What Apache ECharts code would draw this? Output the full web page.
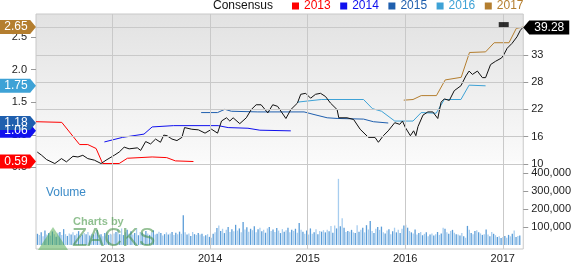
<!DOCTYPE html>
<html><head><meta charset="utf-8">
<script src="https://cdn.jsdelivr.net/npm/echarts@6/dist/echarts.min.js"></script>
<style>html,body{margin:0;padding:0;background:#fff}#c{width:574px;height:264px}</style>
</head><body><div id="c"></div>
<script>
// ---- axis ranges & ticks (decimal years on x) ----
const xMin = 2012.215, xMax = 2017.21;
const yearTicks = [2013, 2014, 2015, 2016, 2017];
const epsTicks = [0.5, 1.0, 1.5, 2.0, 2.5];
const priceTicks = [10, 15.85, 21.7, 27.55, 33.4, 39.25];
const volumeTicks = [100000, 200000, 300000, 400000];

// ---- price (black line) ----
const priceDates = [
  2012.228,2012.273,2012.324,2012.408,2012.476,2012.527,2012.594,2012.645,2012.695,2012.746,2012.814,2012.882,2012.933,
  2013.017,2013.068,2013.119,2013.170,2013.254,2013.288,2013.339,2013.390,2013.441,2013.491,2013.525,2013.558,2013.609,2013.660,2013.711,2013.738,2013.812,2013.880,2013.948,
  2014.015,2014.076,2014.117,2014.168,2014.202,2014.236,2014.304,2014.371,2014.421,2014.472,2014.523,2014.591,2014.642,2014.692,2014.777,2014.827,2014.895,2014.929,2014.980,
  2015.030,2015.081,2015.132,2015.183,2015.234,2015.302,2015.319,2015.403,2015.471,2015.538,2015.623,2015.690,2015.725,2015.776,2015.826,2015.893,2015.944,2015.972,
  2016.002,2016.053,2016.086,2016.109,2016.131,2016.182,2016.232,2016.283,2016.334,2016.368,2016.401,2016.452,2016.503,2016.571,2016.622,2016.655,2016.689,2016.740,2016.791,2016.824,2016.875,2016.926,2016.987,
  2017.010,2017.045,2017.095,2017.146,2017.180,2017.205];
const priceValues = [
  12.53,11.83,10.90,10.06,11.12,10.42,11.62,11.47,11.83,11.12,10.78,10.06,10.78,
  11.83,12.53,13.58,13.22,13.43,12.88,14.78,14.27,15.32,14.63,16.17,16.04,15.32,14.99,15.68,17.79,17.43,17.30,16.59,
  17.43,16.59,19.20,19.89,19.20,19.89,18.63,19.89,21.64,22.69,22.69,20.94,22.69,22.35,19.74,21.64,23.05,24.94,25.15,
  24.10,24.94,25.15,24.46,23.05,21.64,19.89,19.89,19.53,17.43,15.68,15.68,14.63,16.04,17.09,18.84,18.48,19.20,
  17.79,16.04,17.09,16.04,18.00,20.46,21.15,21.15,19.74,23.26,23.95,23.62,25.72,26.77,28.88,29.93,29.21,29.93,28.52,28.52,31.32,32.03,32.73,
  33.42,34.83,35.88,37.29,38.68,39.28];

// ---- consensus EPS estimates by fiscal year ----
const eps2013Dates = [2012.215,2012.479,2012.662,2012.746,2012.831,2012.898,2013.068,2013.152,2013.406,2013.555,2013.644,2013.829];
const eps2013Values = [1.20,1.19,0.85,0.85,0.79,0.56,0.56,0.64,0.66,0.65,0.60,0.59];
const eps2014Dates = [2012.916,2013.102,2013.322,2013.406,2013.626,2014.083,2014.185,2014.388,2014.510,2014.827];
const eps2014Values = [0.89,0.96,1.01,1.12,1.14,1.14,1.11,1.10,1.07,1.06];
const eps2015Dates = [2013.908,2014.076,2014.151,2014.218,2014.489,2014.963,2015.065,2015.200,2015.302,2015.573,2015.674,2015.826];
const eps2015Values = [1.34,1.34,1.39,1.36,1.35,1.35,1.31,1.26,1.25,1.24,1.20,1.18];
const eps2016Dates = [2014.895,2015.139,2015.573,2015.664,2015.758,2015.893,2016.080,2016.164,2016.317,2016.401,2016.571,2016.655,2016.824];
const eps2016Values = [1.50,1.54,1.54,1.40,1.36,1.21,1.21,1.34,1.33,1.54,1.54,1.76,1.75];
const eps2017Dates = [2015.985,2016.080,2016.164,2016.320,2016.410,2016.574,2016.659,2016.824,2016.912,2017.064,2017.139,2017.210];
const eps2017Values = [1.53,1.54,1.60,1.60,1.84,1.88,2.26,2.27,2.41,2.41,2.63,2.65];

// ---- weekly volume (thousands), first week and week length in years ----
const volumeStart = 2012.23;
const volumeWeek = 7 / 365.25;
const volume2012 = [62,55,70,48,80,58,66,52,75,60,45,68,72,55,88,60,50,64,58,70,54,62,77,49,58,66,60,72,52,63,58,70,83,55,60,48,67,74,56,62];
const volume2013 = [58,64,72,88,60,92,55,70,84,62,76,58,66,90,54,72,68,60,78,64,56,70,82,58,62,74,66,52,60,70,58,64,72,55,68,60,74,62,166,70,58,64,50,72,60,56,66,58,62,48,54,60];
const volume2014 = [45,40,62,70,95,108,78,90,66,84,100,72,88,76,112,80,92,70,128,86,98,74,90,82,104,70,88,96,76,84,68,92,100,78,86,72,94,80,66,88,74,82,96,70,84,78,90,68,122,84,74,62];
const volume2015 = [80,58,92,62,70,88,60,78,74,82,70,84,76,105,68,108,92,368,104,149,96,72,78,74,84,70,66,110,74,84,96,70,110,86,133,78,66,90,100,84,102,70,64,80,88,60,76,96,70,84,66,90];
const volume2016 = [108,112,96,78,70,64,86,58,66,72,54,62,70,48,58,64,52,60,72,56,64,96,90,70,62,78,84,68,60,58,52,66,48,40,106,84,66,60,78,82,70,64,56,60,86,58,48,72,62,54,44,48];
const volume2017 = [38,44,50,40,56,48,62,80,44,50,52];

// ---- marks ----
const earningsMark = [[2017.01, 39.92]];

const legendNames = ['2013','2014','2015','2016','2017'];
const colors = { '2013':'#ff0000', '2014':'#1010ee', '2015':'#1f5fae', '2016':'#3ea2d6', '2017':'#b47e2f' };
const FONT = "'Liberation Sans', Arial, Helvetica, sans-serif";

const zip = (xs, ys) => xs.map((x, i) => [x, ys[i]]);
const volumes = [].concat(volume2012, volume2013, volume2014, volume2015, volume2016, volume2017)
  .map((v, i) => [volumeStart + i * volumeWeek, v * 1000]);

const flagRight = 'path://M0,0 L31,0 L37,7 L31,14 L0,14 Z';
const flagLeft = 'path://M6,0 L46,0 L46,14 L6,14 L0,7 Z';

function epsSeries(name, dates, values) {
  const last = values[values.length - 1];
  return {
    name, type: 'line', yAxisIndex: 0, z: 3, symbol: 'none', silent: true,
    data: zip(dates, values),
    lineStyle: { width: 1, color: colors[name] },
    itemStyle: { color: colors[name] },
    markPoint: {
      silent: true, animation: false,
      symbol: flagRight, symbolSize: [36, 14], symbolOffset: [-18, 0],
      itemStyle: { color: colors[name] },
      label: { show: true, color: '#fff', fontSize: 12, fontFamily: FONT, offset: [-2, 0],
               formatter: () => last.toFixed(2) },
      data: [{ coord: [xMin, last] }]
    }
  };
}

const chart = echarts.init(document.getElementById('c'), null, { renderer: 'canvas' });
const lastPrice = priceValues[priceValues.length - 1];

chart.setOption({
  animation: false,
  textStyle: { fontFamily: FONT },
  grid: {
    left: 36, right: 46, top: 14, bottom: 10, show: true,
    borderColor: '#c8c8c8', borderWidth: 1,
    backgroundColor: { type: 'linear', x: 0, y: 0, x2: 0, y2: 1,
      colorStops: [{ offset: 0, color: '#e2e2e2' }, { offset: 0.62, color: '#fafafa' }, { offset: 0.64, color: '#ffffff' }, { offset: 1, color: '#ffffff' }] }
  },
  legend: {
    left: 292, top: 0, padding: 0, itemWidth: 7, itemHeight: 7, itemGap: 9.5, icon: 'rect',
    selectedMode: false,
    data: legendNames.map(n => ({ name: n, textStyle: { color: colors[n] } })),
    textStyle: { fontSize: 12, fontFamily: FONT }
  },
  xAxis: {
    type: 'value', min: xMin, max: xMax,
    axisLine: { show: false, onZero: false }, axisTick: { show: false }, splitLine: { show: false },
    axisLabel: { customValues: yearTicks, formatter: v => String(Math.round(v)), color: '#222', fontSize: 11, margin: 4 }
  },
  yAxis: [
    { type: 'value', position: 'left', min: -0.75, max: 2.85,
      axisLine: { show: false, onZero: false }, splitLine: { show: false },
      axisTick: { show: true, customValues: epsTicks, length: 5, lineStyle: { color: '#999' } },
      axisLabel: { customValues: epsTicks, formatter: v => v.toFixed(1), color: '#222', fontSize: 11, margin: 9 } },
    { type: 'value', position: 'right', min: -8.308, max: 42.196,
      axisLine: { show: false, onZero: false }, splitLine: { show: false },
      axisTick: { show: true, customValues: priceTicks, length: 5, lineStyle: { color: '#999' } },
      axisLabel: { customValues: priceTicks, formatter: v => String(Math.round(v)), color: '#222', fontSize: 11, margin: 8 } },
    { type: 'value', position: 'right', min: -22600, max: 1285800,
      axisLine: { show: false, onZero: false }, splitLine: { show: false },
      axisTick: { show: true, customValues: volumeTicks, length: 5, lineStyle: { color: '#999' } },
      axisLabel: { customValues: volumeTicks, formatter: v => v.toLocaleString('en-US'), color: '#222', fontSize: 11, margin: 8 } }
  ],
  graphic: [
    { type: 'text', left: 213, top: 0, style: { text: 'Consensus', fill: '#111', font: '12px ' + FONT } },
    { type: 'text', left: 46, top: 187, style: { text: 'Volume', fill: '#3b8bc8', font: '12px ' + FONT } },
    { type: 'polygon', shape: { points: [[53, 227], [38, 250], [68, 250]] }, style: { fill: 'rgba(70,165,70,0.5)' }, z: 10 },
    { type: 'text', left: 73, top: 216, style: { text: 'Charts by', fill: 'rgba(70,150,70,0.6)', font: 'bold 11px ' + FONT }, z: 10 },
    { type: 'text', left: 72, top: 227, style: { text: 'ZACKS', fill: 'rgba(60,140,60,0.55)', font: '25px ' + FONT }, z: 10 }
  ],
  series: [
    { name: 'grid', type: 'line', yAxisIndex: 1, data: [], z: 1, silent: true,
      markLine: { silent: true, animation: false, symbol: ['none', 'none'], label: { show: false },
        lineStyle: { color: '#c9c9c9', width: 1, type: 'solid' },
        data: priceTicks.map(v => ({ yAxis: v })).concat(yearTicks.map(v => ({ xAxis: v }))) } },
    { name: 'Volume', type: 'bar', yAxisIndex: 2, z: 2, barWidth: 1.3, silent: true,
      data: volumes,
      itemStyle: { color: p => (p.dataIndex % 2 ? '#a7cdef' : '#5b9dd8') } },
    epsSeries('2013', eps2013Dates, eps2013Values),
    epsSeries('2014', eps2014Dates, eps2014Values),
    epsSeries('2015', eps2015Dates, eps2015Values),
    epsSeries('2016', eps2016Dates, eps2016Values),
    epsSeries('2017', eps2017Dates, eps2017Values),
    { name: 'Price', type: 'line', yAxisIndex: 1, z: 4, symbol: 'none', silent: true,
      data: zip(priceDates, priceValues),
      lineStyle: { width: 1, color: '#111' },
      markPoint: { silent: true, animation: false,
        symbol: flagLeft, symbolSize: [46, 14], symbolOffset: [23, 0],
        itemStyle: { color: '#000' },
        label: { show: true, color: '#fff', fontSize: 12, fontFamily: FONT, offset: [3, 0], formatter: () => lastPrice.toFixed(2) },
        data: [{ coord: [xMax, lastPrice] }] } },
    { name: 'Earnings', type: 'scatter', yAxisIndex: 1, z: 5, silent: true,
      symbol: 'rect', symbolSize: [10, 5], itemStyle: { color: '#000' }, data: earningsMark }
  ]
});
</script>
</body></html>
